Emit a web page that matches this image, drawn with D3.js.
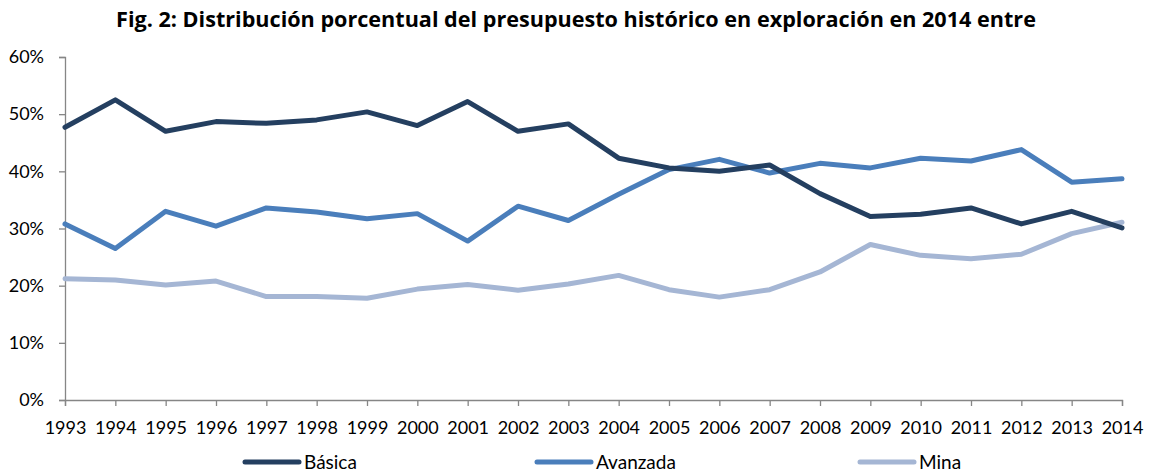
<!DOCTYPE html>
<html>
<head>
<meta charset="utf-8">
<script src="https://cdn.jsdelivr.net/npm/d3@7"></script>
<style>
  body { margin: 0; background: #fff; }
  svg { display: block; font-family: Lato, "Open Sans", sans-serif; }
</style>
</head>
<body>
<svg id="chart"></svg>
<script>
const years = [1993, 1994, 1995, 1996, 1997, 1998, 1999, 2000, 2001, 2002, 2003,
               2004, 2005, 2006, 2007, 2008, 2009, 2010, 2011, 2012, 2013, 2014];
const basica   = [47.7, 52.5, 47.0, 48.7, 48.4, 49.0, 50.4, 48.0, 52.2, 47.0, 48.3,
                  42.3, 40.6, 40.0, 41.1, 36.1, 32.1, 32.5, 33.6, 30.8, 33.0, 30.1];
const avanzada = [30.8, 26.5, 33.0, 30.4, 33.6, 32.9, 31.7, 32.6, 27.8, 33.9, 31.4,
                  36.0, 40.3, 42.1, 39.7, 41.4, 40.6, 42.3, 41.8, 43.8, 38.1, 38.7];
const mina     = [21.2, 21.0, 20.1, 20.8, 18.1, 18.1, 17.8, 19.4, 20.2, 19.2, 20.3,
                  21.8, 19.3, 18.0, 19.3, 22.4, 27.2, 25.3, 24.7, 25.5, 29.1, 31.1];
const yTicks = [0, 10, 20, 30, 40, 50, 60];

const series = [
  {name: "Básica", values: basica, color: "#243f60", lx: 245},
  {name: "Avanzada", values: avanzada, color: "#4a7ebb", lx: 537},
  {name: "Mina", values: mina, color: "#a5b6d4", lx: 860}
];

const width = 1149, height = 475;
const margin = {top: 57, right: 27, bottom: 75, left: 65};

const svg = d3.select("#chart").attr("width", width).attr("height", height);

const x = d3.scalePoint().domain(years).range([margin.left, width - margin.right]);
const y = d3.scaleLinear().domain([0, 60]).range([height - margin.bottom, margin.top]);

// title
svg.append("text")
    .attr("x", 576)
    .attr("y", 27)
    .attr("text-anchor", "middle")
    .attr("font-family", "'Open Sans', sans-serif")
    .attr("font-size", 21.6)
    .attr("font-weight", "bold")
    .attr("fill", "#000")
    .text("Fig. 2: Distribución porcentual del presupuesto histórico en exploración en 2014 entre");

// axes
const yAxis = svg.append("g")
    .attr("transform", `translate(${margin.left},0)`)
    .call(d3.axisLeft(y).tickValues(yTicks).tickSize(6).tickPadding(15).tickFormat(d => d + "%"));

const xAxis = svg.append("g")
    .attr("transform", `translate(0,${y(0)})`)
    .call(d3.axisBottom(x).tickSize(6).tickPadding(15));

[xAxis, yAxis].forEach(g => {
  g.select(".domain").attr("stroke", "#868686").attr("stroke-width", 1.3);
  g.selectAll(".tick line").attr("stroke", "#868686").attr("stroke-width", 1.3);
  g.selectAll(".tick text").attr("font-size", 18).attr("fill", "#000")
    .attr("font-family", "Lato, sans-serif");
});

const line = d3.line()
    .x((d, i) => x(years[i]))
    .y(d => y(d));

// draw Mina first, then Avanzada, then Básica on top
series.slice().reverse().forEach(s => {
  svg.append("path")
      .datum(s.values)
      .attr("fill", "none")
      .attr("stroke", s.color)
      .attr("stroke-width", 5)
      .attr("stroke-linejoin", "round")
      .attr("stroke-linecap", "round")
      .attr("d", line);
});

// legend
const legend = svg.append("g").attr("transform", "translate(0,462)");
series.forEach(s => {
  legend.append("line")
      .attr("x1", s.lx).attr("x2", s.lx + 54)
      .attr("y1", 0).attr("y2", 0)
      .attr("stroke", s.color)
      .attr("stroke-width", 5)
      .attr("stroke-linecap", "round");
  legend.append("text")
      .attr("x", s.lx + 59)
      .attr("y", 7)
      .attr("font-size", 19)
      .attr("fill", "#000")
      .text(s.name);
});
</script>
</body>
</html>
